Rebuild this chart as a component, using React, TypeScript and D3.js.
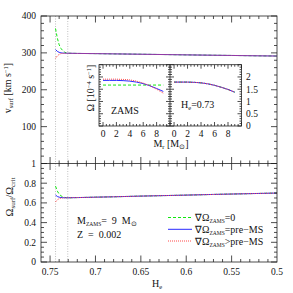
import * as d3 from 'd3';

// He sample points along the track (ZAMS at ~0.744)
const heGrid = [0.744, 0.742, 0.740, 0.738, 0.736, 0.734, 0.732, 0.730, 0.72, 0.70, 0.68, 0.65, 0.62, 0.60, 0.57, 0.55, 0.52, 0.50];

const vGreen = [366, 340, 322, 312, 306, 302, 300, 299, 298.5, 298, 297.3, 296.3, 295.3, 294.6, 293.6, 293, 292, 291.4];
const vBlue = [309, 304, 301.5, 300, 299.5, 299.2, 299, 299, 298.5, 298, 297.3, 296.3, 295.3, 294.6, 293.6, 293, 292, 291.4];
const vRed = [285, 292, 296, 298, 298.6, 298.9, 299, 299, 298.5, 298, 297.3, 296.3, 295.3, 294.6, 293.6, 293, 292, 291.4];

const rGreen = [0.77, 0.72, 0.69, 0.672, 0.662, 0.656, 0.653, 0.652, 0.654, 0.658, 0.662, 0.669, 0.675, 0.679, 0.686, 0.69, 0.696, 0.70];
const rBlue = [0.68, 0.665, 0.658, 0.655, 0.653, 0.652, 0.652, 0.652, 0.654, 0.658, 0.662, 0.669, 0.675, 0.679, 0.686, 0.69, 0.696, 0.70];
const rRed = [0.61, 0.632, 0.643, 0.648, 0.65, 0.651, 0.652, 0.652, 0.654, 0.658, 0.662, 0.669, 0.675, 0.679, 0.686, 0.69, 0.696, 0.70];

// inset: Omega profiles vs Mr
const mrGrid = [0, 1, 2, 3, 4, 5, 6, 7, 8, 9];
const zamsGreen = [1.67, 1.67, 1.67, 1.67, 1.67, 1.67, 1.67, 1.67, 1.67, 1.67];
const zamsBlue = [1.86, 1.86, 1.86, 1.85, 1.83, 1.79, 1.73, 1.64, 1.53, 1.41];
const zamsRed = [1.91, 1.91, 1.91, 1.9, 1.88, 1.83, 1.75, 1.64, 1.5, 1.34];
const he73Green = [1.79, 1.79, 1.79, 1.78, 1.76, 1.72, 1.66, 1.58, 1.49, 1.38];
const he73Blue = [1.79, 1.79, 1.79, 1.78, 1.76, 1.72, 1.66, 1.58, 1.49, 1.38];
const he73Red = [1.79, 1.79, 1.79, 1.78, 1.76, 1.72, 1.66, 1.58, 1.49, 1.38];

const markerHe = [0.744, 0.7305];
const xTicks = [0.75, 0.7, 0.65, 0.6, 0.55, 0.5];
const vTicks = [0, 100, 200, 300, 400];
const rTicks = [0, 0.2, 0.4, 0.6, 0.8, 1];
const insetXTicks = [0, 2, 4, 6, 8];
const insetYTicks = [0, 0.5, 1, 1.5, 2];

const GREEN = '#10e810';
const BLUE = '#2a2aff';
const RED = '#ff4848';
const FONT = '"Liberation Serif", serif';
const SP = '\u00a0';

function range(a: number, b: number, step: number) {
  const out: number[] = [];
  for (let v = a; v <= b + 1e-9; v += step) out.push(+v.toFixed(6));
  return out;
}

export default function App() {
  const L = 41, R = 277, T = 16, MID = 163.5, B = 262;
  const x = d3.scaleLinear().domain([0.76, 0.5]).range([L, R]);
  const yV = d3.scaleLinear().domain([0, 400]).range([MID, T]);
  const yR = d3.scaleLinear().domain([0, 1]).range([B, MID]);

  const iT = 64.7, iB = 126, iL1 = 99, iM = 170, iR2 = 241.5;
  const ix1 = d3.scaleLinear().domain([-0.6, 10]).range([iL1, iM]);
  const ix2 = d3.scaleLinear().domain([-0.6, 10]).range([iM, iR2]);
  const iy = d3.scaleLinear().domain([0, 2.5]).range([iB, iT]);

  const lineV = (ys: number[]) =>
    d3.line<number>().x((_, i) => x(heGrid[i])).y(d => yV(d))(ys) || '';
  const lineR = (ys: number[]) =>
    d3.line<number>().x((_, i) => x(heGrid[i])).y(d => yR(d))(ys) || '';
  const lineI = (sx: d3.ScaleLinear<number, number>, ys: number[]) =>
    d3.line<number>().x((_, i) => sx(mrGrid[i])).y(d => iy(d))(ys) || '';

  const minorX = range(0.5, 0.76, 0.01);
  const ticks: JSX.Element[] = [];
  let k = 0;
  // main x ticks: top, middle (both sides), bottom
  minorX.forEach(v => {
    const major = Math.abs((v * 100) % 5) < 1e-6 || Math.abs((v * 100) % 5 - 5) < 1e-6;
    const len = major ? 6.5 : 3;
    const px = x(v);
    if (px < L + 0.5 || px > R - 0.5) return;
    ticks.push(<line key={k++} x1={px} x2={px} y1={T} y2={T + len} />);
    ticks.push(<line key={k++} x1={px} x2={px} y1={MID - len} y2={MID + len} />);
    ticks.push(<line key={k++} x1={px} x2={px} y1={B} y2={B - len} />);
  });
  range(0, 400, 20).forEach(v => {
    const major = v % 100 === 0;
    const len = major ? 6 : 3;
    const py = yV(v);
    ticks.push(<line key={k++} x1={L} x2={L + len} y1={py} y2={py} />);
    ticks.push(<line key={k++} x1={R} x2={R - len} y1={py} y2={py} />);
  });
  range(0, 1, 0.05).forEach(v => {
    const major = Math.abs(v * 5 - Math.round(v * 5)) < 1e-6;
    const len = major ? 6 : 3;
    const py = yR(v);
    ticks.push(<line key={k++} x1={L} x2={L + len} y1={py} y2={py} />);
    ticks.push(<line key={k++} x1={R} x2={R - len} y1={py} y2={py} />);
  });

  // inset ticks
  [ix1, ix2].forEach(sx => {
    range(0, 10, 0.5).forEach(v => {
      const major = v % 2 === 0;
      const len = major ? 4 : 2;
      const px = sx(v);
      ticks.push(<line key={k++} x1={px} x2={px} y1={iB} y2={iB - len} />);
      ticks.push(<line key={k++} x1={px} x2={px} y1={iT} y2={iT + len} />);
    });
  });
  range(0, 2.5, 0.1).forEach(v => {
    const major = Math.abs(v * 2 - Math.round(v * 2)) < 1e-6;
    const len = major ? 4 : 2;
    const py = iy(v);
    [[iL1, 1], [iM, -1], [iM, 1], [iR2, -1]].forEach(([x0, s]) => {
      ticks.push(<line key={k++} x1={x0} x2={x0 + s * len} y1={py} y2={py} />);
    });
  });

  const legend = [
    { y: 217.5, color: GREEN, dash: '3,2', label: '=0' },
    { y: 229.3, color: BLUE, dash: undefined, label: '=pre\u2212MS' },
    { y: 241, color: RED, dash: '1,1', label: '>pre\u2212MS' },
  ];

  return (
    <svg width={293} height={293} style={{ position: 'absolute', left: 0, top: 0, background: '#fff' }}
      fontFamily={FONT}>
      <rect width={293} height={293} fill="#fff" />
      {/* ZAMS / He=0.73 markers */}
      {markerHe.map(h => (
        <line key={h} x1={x(h)} x2={x(h)} y1={T} y2={B} stroke="#b0b0b0" strokeWidth={0.8} strokeDasharray="1,1.5" />
      ))}
      {/* top panel */}
      <path d={lineV(vGreen)} fill="none" stroke={GREEN} strokeWidth={1} strokeDasharray="3,2" />
      <path d={lineV(vBlue)} fill="none" stroke={BLUE} strokeWidth={1} />
      <path d={lineV(vRed)} fill="none" stroke={RED} strokeWidth={1} strokeDasharray="1,1" />
      {/* bottom panel */}
      <path d={lineR(rGreen)} fill="none" stroke={GREEN} strokeWidth={1} strokeDasharray="3,2" />
      <path d={lineR(rBlue)} fill="none" stroke={BLUE} strokeWidth={1} />
      <path d={lineR(rRed)} fill="none" stroke={RED} strokeWidth={1} strokeDasharray="1,1" />

      {/* inset */}
      <rect x={iL1} y={iT} width={iR2 - iL1} height={iB - iT} fill="#fff" />
      <path d={lineI(ix1, zamsGreen)} fill="none" stroke={GREEN} strokeWidth={1} strokeDasharray="3,2" />
      <path d={lineI(ix1, zamsBlue)} fill="none" stroke={BLUE} strokeWidth={1} />
      <path d={lineI(ix1, zamsRed)} fill="none" stroke={RED} strokeWidth={1} strokeDasharray="1,1" />
      <path d={lineI(ix2, he73Green)} fill="none" stroke={GREEN} strokeWidth={1} strokeDasharray="3,2" />
      <path d={lineI(ix2, he73Blue)} fill="none" stroke={BLUE} strokeWidth={1} />
      <path d={lineI(ix2, he73Red)} fill="none" stroke={RED} strokeWidth={1} strokeDasharray="1,1" />

      {/* frames and ticks */}
      <g stroke="#222" strokeWidth={0.8} fill="none">
        <rect x={L} y={T} width={R - L} height={B - T} />
        <line x1={L} x2={R} y1={MID} y2={MID} />
        <rect x={iL1} y={iT} width={iR2 - iL1} height={iB - iT} />
        <line x1={iM} x2={iM} y1={iT} y2={iB} />
        {ticks}
      </g>

      <g fontSize={9.5} fill="#111">
        {xTicks.map(v => (
          <text key={v} x={x(v)} y={275} textAnchor="middle">{v}</text>
        ))}
        {vTicks.filter(v => v > 0).map(v => (
          <text key={v} x={36} y={yV(v) + 3.3} textAnchor="end">{v}</text>
        ))}
        {rTicks.map(v => (
          <text key={v} x={36} y={yR(v) + 3.3} textAnchor="end">{v}</text>
        ))}
        {[ix1, ix2].map((sx, j) =>
          insetXTicks.map(v => (
            <text key={j + '-' + v} x={sx(v)} y={137} textAnchor="middle">{v}</text>
          ))
        )}
        {insetYTicks.map(v => (
          <text key={v} x={246} y={iy(v) + 3.3} textAnchor="start">{v}</text>
        ))}
      </g>

      {/* axis titles */}
      <g fontSize={10} fill="#111">
        <text x={157} y={287} textAnchor="middle">H<tspan fontSize={6.5} dy={2}>e</tspan></text>
        <text transform="translate(11,88) rotate(-90)" textAnchor="middle">
          v<tspan fontSize={6.5} dy={2}>surf</tspan><tspan dy={-2}>{SP}[km s</tspan><tspan fontSize={6.5} dy={-3.5}>−1</tspan><tspan dy={3.5}>]</tspan>
        </text>
        <text transform="translate(13,197) rotate(-90)" textAnchor="middle" fontSize={10.5}>
          Ω<tspan fontSize={7} dy={2}>surf</tspan><tspan dy={-2}>/Ω</tspan><tspan fontSize={7} dy={2}>crit</tspan>
        </text>
        <text transform="translate(94,88) rotate(-90)" textAnchor="middle">
          Ω{SP}[10<tspan fontSize={6.5} dy={-3.5}>−4</tspan><tspan dy={3.5}>{SP}s</tspan><tspan fontSize={6.5} dy={-3.5}>−1</tspan><tspan dy={3.5}>]</tspan>
        </text>
        <text x={171} y={147} textAnchor="middle">
          M<tspan fontSize={6.5} dy={2}>r</tspan><tspan dy={-2}>{SP}[M</tspan><tspan fontSize={6.5} dy={2}>⊙</tspan><tspan dy={-2}>]</tspan>
        </text>
        <text x={111} y={114}>ZAMS</text>
        <text x={181} y={107.5}>H<tspan fontSize={6.5} dy={2}>e</tspan><tspan dy={-2}>=0.73</tspan></text>
        <text x={77} y={224}>
          M<tspan fontSize={5.5} dy={2}>ZAMS</tspan><tspan dy={-2}>{'=' + SP + SP + '9' + SP + SP + 'M'}</tspan><tspan fontSize={6.5} dy={2}>⊙</tspan>
        </text>
        <text x={77} y={237.5}>{'Z' + SP + SP + '=' + SP + SP + '0.002'}</text>
      </g>

      {/* legend */}
      <g fontSize={10} fill="#111">
        {legend.map(l => (
          <g key={l.label}>
            <line x1={168} x2={192} y1={l.y} y2={l.y} stroke={l.color} strokeWidth={1} strokeDasharray={l.dash} />
            <text x={195} y={l.y + 3.5}>
              ∇Ω<tspan fontSize={5.5} dy={2}>ZAMS</tspan><tspan dy={-2}>{l.label}</tspan>
            </text>
          </g>
        ))}
      </g>
    </svg>
  );
}
